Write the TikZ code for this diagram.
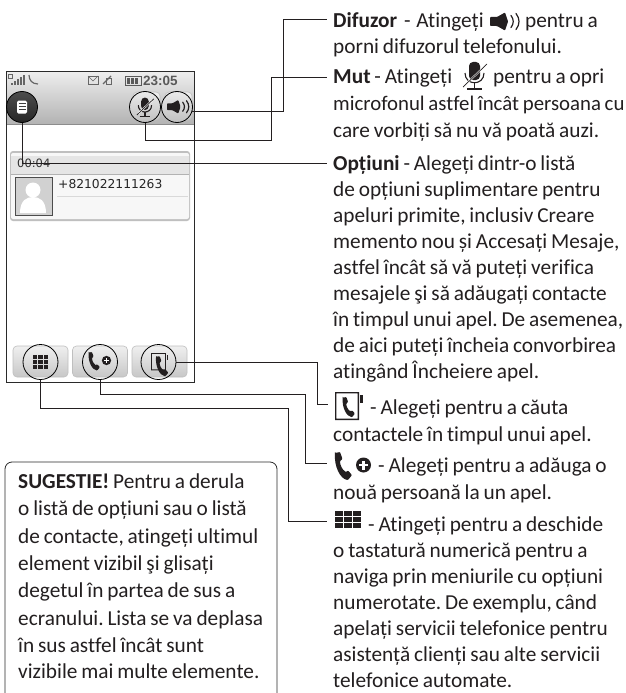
\documentclass[tikz,border=0pt]{standalone}
\usepackage{fontspec}
\setmainfont[WordSpace=0.8,Ligatures=NoCommon]{Carlito}
\newfontfamily\uifont{DejaVu Sans}
\newfontfamily\clockfont{Liberation Sans}
\definecolor{ink}{HTML}{231F20}
\definecolor{frame}{HTML}{2A2A2A}
\newcommand{\bodyfs}{\fontsize{21.3}{26}\selectfont\frenchspacing}
\tikzset{
  txt/.style={anchor=base west,inner sep=0pt,text=ink,font=\bodyfs},
  conn/.style={draw=ink,line width=0.75pt},
  ring/.style={circle,draw=black,line width=0.8pt,minimum size=#1,inner sep=0pt},
  softbtn/.style={draw=black!25,line width=0.6pt,rounded corners=4pt,top color=black!6,bottom color=black!22},
  speakerglyph/.pic={
    \fill[ink,rounded corners=0.8pt] (0,4.5) -- (7,4.5) -- (15,0) -- (18,9) -- (15,18) -- (7,13.5) -- (0,13.5) -- cycle;
    \draw[ink,line width=1.2pt,line cap=round] (21,3) .. controls (24,7) and (24,11) .. (21,15);
    \draw[ink,line width=1.2pt,line cap=round] (26,1) .. controls (30,6) and (30,12) .. (26,17);
  },
  micglyph/.pic={
    \fill[ink,rounded corners=4pt] (8,0) rectangle (19,18);
    \draw[ink,line width=1.1pt] (4,11) .. controls (4,24) and (23,24) .. (23,11);
    \draw[ink,line width=1.6pt] (13.5,21) -- (13.5,26);
    \draw[ink,line width=1.6pt] (6,27) -- (21,27);
    \draw[white,line width=1.8pt] (4,23) -- (24,4);
    \draw[ink,line width=0.7pt] (2,25) -- (26,2);
  },
  handsetglyph/.pic={
    \fill[ink,rounded corners=0.8pt] (1,1) -- (6,0) -- (8.5,7) -- (6,9) .. controls (6,13) and (8.5,18) .. (12,20) -- (14,18.5) -- (18,23) -- (14,28) .. controls (6,27) and (0,14) .. (1,1) -- cycle;
  },
  gridglyph/.pic={
    \foreach \cx in {0,9,18} \foreach \cy in {0,6,12} {
      \fill[ink] (\cx,\cy) rectangle ++(8,5);
    }
  },
  keypadglyph/.pic={
    \foreach \cx in {0,5.3,10.6} \foreach \cy in {0,5.3,10.6} {
      \fill[ink] (\cx,\cy) rectangle ++(4.3,4.3);
    }
  },
  plusglyph/.pic={
    \fill[ink] (0,0) circle (7.5);
    \fill[white] (-4.5,-1.2) rectangle (4.5,1.2);
    \fill[white] (-1.2,-4.5) rectangle (1.2,4.5);
  },
  contactglyph/.pic={
    \fill[ink,even odd rule] (0,0) rectangle (24,28) (1.4,1.4) rectangle (22.6,26.6);
    \fill[ink] (25,3) rectangle (27.5,11);
    \pic[scale=0.72] at (7,5) {handsetglyph};
  },
}
\begin{document}
\begin{tikzpicture}[x=1pt,y=-1pt]
\useasboundingbox (0,0) rectangle (626,693);
\fill[white] (0,0) rectangle (626,693);

% phone screen
\fill[top color=black!7,bottom color=black!30] (6,72) rectangle (194,124);
\draw[black!45,line width=0.8pt] (6,124.5) -- (194,124.5);
\node[softbtn,minimum width=27pt,minimum height=28pt,inner sep=0pt] (sqMic) at (146.5,106) {};
\node[softbtn,minimum width=27pt,minimum height=28pt,inner sep=0pt] (sqSpk) at (178.5,106) {};

% status bar
\foreach \bx/\bt in {11/83,14/81,17/79,20/77,23/75} {
  \fill[black!60] (\bx,85) rectangle (\bx+2,\bt);
}
\draw[black!60,line width=0.6pt] (8,74) rectangle (12,78);
\draw[black!60,line width=1.2pt] (29,75) .. controls (29,80) and (32,84) .. (38,84);
\draw[black!60,line width=0.6pt] (88,76) rectangle (98,84);
\draw[black!60,line width=0.6pt] (88,76) -- (93,81) -- (98,76);
\draw[black!60,line width=1.2pt] (103,84) -- (111,76);
\draw[black!60,line width=0.6pt] (106,84) -- (106,78) -- (111,78) -- (111,84) -- cycle;
\draw[black!65,line width=0.7pt] (125,76) rectangle (141,85);
\foreach \bx in {127,131,135} { \fill[black!65] (\bx,77.5) rectangle (\bx+3,83.5); }
\node[inner sep=0pt,anchor=base west,text=black!65,font={\clockfont\bfseries\fontsize{13.5}{14}\selectfont}] (clock) at (143,85) {23:05};

% call card
\fill[black!25,rounded corners=3pt] (10,151) rectangle (190,221);
\fill[black!3,rounded corners=2pt] (11,153) rectangle (189,219);
\fill[black!10] (11,156) rectangle (189,174);
\draw[black!30,line width=0.6pt] (11,174.5) -- (189,174.5);
\draw[black!15,line width=0.6pt] (57,196) -- (188,196);
\node[inner sep=0pt,anchor=base west,text=black!80,font={\uifont\fontsize{11.5}{13}\selectfont}] (timer) at (17,167) {00:04};
\node[inner sep=0pt,anchor=base west,text=black!85,font={\uifont\fontsize{12.3}{14}\selectfont}] (number) at (58,188) {+821022111263};
\fill[black!18] (15,177) rectangle (52,215);
\fill[white] (33,190) circle (7.5);
\fill[white] (20,213) .. controls (20,200) and (27,197) .. (33,197) .. controls (39,197) and (46,200) .. (46,213) -- cycle;
\draw[black!70,line width=0.8pt] (15,177) rectangle (52,215);

% bottom buttons
\node[softbtn,minimum width=55pt,minimum height=31pt,inner sep=0pt] (sqGrid) at (40.5,361.5) {};
\node[softbtn,minimum width=55pt,minimum height=31pt,inner sep=0pt] (sqAdd) at (100,361.5) {};
\node[softbtn,minimum width=55pt,minimum height=31pt,inner sep=0pt] (sqCont) at (159.5,361.5) {};

\draw[frame,line width=1pt] (6,71.5) rectangle (194,382);

% round buttons
\node[ring=31pt,top color=black!70,bottom color=black!85] (btnMenu) at (22,107) {};
\node[ring=31pt,top color=black!8,bottom color=black!25] (btnMic) at (145,107) {};
\node[ring=31pt,top color=black!8,bottom color=black!25] (btnSpk) at (177,107) {};
\node[ring=35pt] (btnGrid) at (40.5,362) {};
\node[ring=35pt] (btnAdd) at (100,362) {};
\node[ring=35pt] (btnCont) at (158.5,362) {};

% glyphs on buttons
\fill[white,rounded corners=1.5pt] (17,100.5) rectangle (27,113.5);
\foreach \ly in {103.5,106.5,109.5} { \draw[black!75,line width=1pt] (18.5,\ly) -- (25.5,\ly); }
\pic[scale=0.7] at (135.5,97.5) {micglyph};
\pic[scale=0.75] at (167,100) {speakerglyph};
\pic at (33,354.5) {keypadglyph};
\pic[scale=0.66] at (88,352) {handsetglyph};
\pic[scale=0.62] at (106.5,360.5) {plusglyph};
\pic[scale=0.62] at (151,353) {contactglyph};

% connector ends
\coordinate (kDif) at (283,19);
\coordinate (endDif) at (327,19);
\coordinate (kMutA) at (271,140);
\coordinate (kMutB) at (271,77);
\coordinate (endMut) at (327,77);
\coordinate (endOpt) at (327,163);
\coordinate (kCont) at (317.5,404);
\coordinate (endCont) at (328,404);
\coordinate (kAddA) at (305,394.5);
\coordinate (kAddB) at (305,463);
\coordinate (endAdd) at (327,463);
\coordinate (kGridA) at (288,408.5);
\coordinate (kGridB) at (288,521.5);
\coordinate (endGrid) at (327,521.5);

\draw[conn] (btnSpk.-15) -| (kDif) -- (endDif);
\draw[conn] (btnMic.south) |- (kMutA) -- (kMutB) -- (endMut);
\draw[conn] (btnMenu.south) |- (endOpt);
\draw[conn] (btnCont.east) -| (kCont) -- (endCont);
\draw[conn] (btnAdd.south) |- (kAddA) -- (kAddB) -- (endAdd);
\draw[conn] (btnGrid.south) |- (kGridA) -- (kGridB) -- (endGrid);

% right column
\node[txt] (difA) at (333,28) {\textbf{Difuzor}\hspace{3pt} -\hspace{2pt} Atingeți};
\pic at (490,12.5) {speakerglyph};
\node[txt] (difB) at (525,28) {pentru a};
\node[txt] (difC) at (333,54) {porni difuzorul telefonului.};
\node[txt] (mutA) at (333,84) {\textbf{Mut} - Atingeți};
\pic at (461,62) {micglyph};
\node[txt] (mutB) at (493,84) {pentru a opri};
\foreach \yy/\linetxt in {
  110.5/{\fontsize{20.8}{26}\selectfont microfonul astfel încât persoana cu},
  137/{care vorbiți să nu vă poată auzi.},
  170/{\textbf{Opțiuni} - Alegeți dintr-o listă},
  196/{de opțiuni suplimentare pentru},
  222/{apeluri primite, inclusiv Creare},
  248/{memento nou și Accesați Mesaje,},
  274/{astfel încât să vă puteți verifica},
  300/{mesajele şi să adăugați contacte},
  326/{în timpul unui apel. De asemenea,},
  352/{de aici puteți încheia convorbirea},
  378/{atingând Încheiere apel.},
  441/{contactele în timpul unui apel.},
  499/{nouă persoană la un apel.},
  557/{o tastatură numerică pentru a},
  583/{naviga prin meniurile cu opțiuni},
  609/{numerotate. De exemplu, când},
  635/{apelați servicii telefonice pentru},
  661/{asistență clienți sau alte servicii},
  687/{telefonice automate.}} {
  \node[txt] (line\yy) at (333,\yy) {\linetxt};
}
\pic at (335,392) {contactglyph};
\node[txt] (contA) at (370,414) {- Alegeți pentru a căuta};
\pic at (334,452) {handsetglyph};
\pic at (363.5,465) {plusglyph};
\node[txt] (addA) at (378,472) {- Alegeți pentru a adăuga o};
\pic at (335,511) {gridglyph};
\node[txt] (gridA) at (368,531) {- Atingeți pentru a deschide};

% tip box
\draw[frame,line width=0.8pt,rounded corners=7pt] (5,694) -- (5,462) -- (277,462) -- (277,694);
\foreach \yy/\linetxt in {
  488/{\textbf{SUGESTIE!} Pentru a derula},
  515/{o listă de opțiuni sau o listă},
  543/{de contacte, atingeți ultimul},
  570/{element vizibil şi glisați},
  597/{degetul în partea de sus a},
  625/{ecranului. Lista se va deplasa},
  652/{în sus astfel încât sunt},
  678/{vizibile mai multe elemente.}} {
  \node[txt] (tip\yy) at (18,\yy) {\linetxt};
}
\end{tikzpicture}
\end{document}
